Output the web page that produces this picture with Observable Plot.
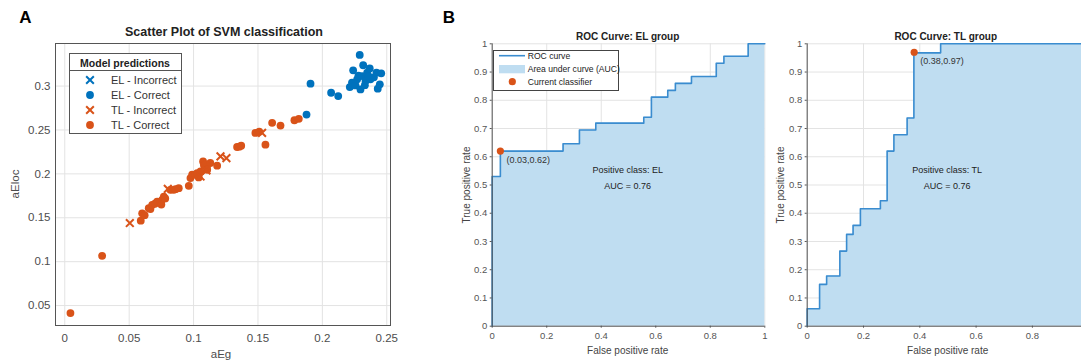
<!DOCTYPE html>
<html><head><meta charset="utf-8">
<script src="https://cdn.jsdelivr.net/npm/d3@7"></script>
<script src="https://cdn.jsdelivr.net/npm/@observablehq/plot@0.6"></script>
<style>
html,body{margin:0;padding:0;background:#fff;}
#root{position:relative;width:1081px;height:361px;overflow:hidden;font-family:"Liberation Sans",Arial,sans-serif;color:#262626;}
.abs{position:absolute;white-space:nowrap;}
.ctr{transform:translate(-50%,-50%);}
.rot{transform:translate(-50%,-50%) rotate(-90deg);}
svg.plot{position:absolute;}
</style></head><body><div id="root"></div>
<script>
// ---------- Panel A data ----------
const elCorrectX = [0.1877,0.1908,0.2068,0.2123,0.2213,0.2230,0.2239,0.2257,0.2270,0.2290,0.2296,0.2309,0.2317,0.2335,0.2348,0.2368,0.2373,0.2330,0.2400,0.2420,0.2457,0.2446,0.2430,0.2280,0.2360];
const elCorrectY = [0.2676,0.3027,0.2924,0.2886,0.2989,0.3040,0.3180,0.3008,0.3077,0.3355,0.2962,0.3114,0.3237,0.3057,0.3153,0.3200,0.3077,0.3010,0.3100,0.3153,0.3145,0.3020,0.2970,0.3120,0.3110];
const elIncorrectX = [];
const elIncorrectY = [];
const tlCorrectX = [0.0044,0.0290,0.0590,0.0601,0.0620,0.0652,0.0665,0.0679,0.0700,0.0717,0.0740,0.0756,0.0750,0.0769,0.0780,0.0820,0.0846,0.0860,0.0885,0.0963,0.0976,0.0989,0.1015,0.1028,0.1054,0.1040,0.1074,0.1080,0.1092,0.1130,0.1106,0.1183,0.1338,0.1355,0.1370,0.1480,0.1510,0.1558,0.1610,0.1675,0.1783,0.1817];
const tlCorrectY = [0.0414,0.1067,0.1467,0.1551,0.1530,0.1609,0.1600,0.1647,0.1660,0.1684,0.1680,0.1704,0.1650,0.1741,0.1720,0.1818,0.1818,0.1826,0.1837,0.1864,0.1952,0.1990,0.1990,0.2009,0.2027,0.1960,0.2142,0.2100,0.2104,0.2124,0.2047,0.2093,0.2306,0.2310,0.2321,0.2467,0.2480,0.2333,0.2581,0.2550,0.2611,0.2627];
const tlIncorrectX = [0.0505,0.0800,0.1054,0.1100,0.1209,0.1255,0.1532];
const tlIncorrectY = [0.1440,0.1830,0.1970,0.2040,0.2199,0.2180,0.2467];
const xTicksA = [0,0.05,0.1,0.15,0.2,0.25];
const yTicksA = [0.05,0.1,0.15,0.2,0.25,0.3];
const legendA = ["EL - Incorrect","EL - Correct","TL - Incorrect","TL - Correct"];

// ---------- Panel B data ----------
const rocElFpr = [0,0,0.03,0.26,0.32,0.38,0.556,0.584,0.644,0.672,0.731,0.822,0.85,0.939,1];
const rocElTpr = [0,0.53,0.62,0.646,0.695,0.719,0.74,0.811,0.835,0.86,0.884,0.931,0.956,1,1];
const rocTlFpr = [0,0,0.044,0.069,0.116,0.14,0.163,0.189,0.26,0.284,0.308,0.355,0.379,0.474,1];
const rocTlTpr = [0,0.062,0.148,0.178,0.266,0.325,0.357,0.416,0.444,0.62,0.678,0.737,0.968,1,1];
const opEl = {fpr:0.03, tpr:0.62, label:"(0.03,0.62)"};
const opTl = {fpr:0.38, tpr:0.97, label:"(0.38,0.97)"};
const aucEl = 0.76, aucTl = 0.76;
const rocXTicks = [0,0.2,0.4,0.6,0.8,1];
const rocXTicksCut = [0,0.2,0.4,0.6,0.8];   // right panel: the "1" label falls outside the picture
const rocYTicks = [0,0.1,0.2,0.3,0.4,0.5,0.6,0.7,0.8,0.9,1];
const legendB = ["ROC curve","Area under curve (AUC)","Current classifier"];

const BLUE = "#0072BD", ORANGE = "#D95319", FILL = "#BFDDF1", LINE = "#3A8CCF";
const FONT = "'Liberation Sans', Arial, sans-serif";
const root = document.getElementById("root");
const fmt = d => String(+d.toFixed(2));

function addText(txt, x, y, css, cls="ctr") {
  const d = document.createElement("div");
  d.className = "abs " + cls;
  d.textContent = txt;
  d.style.left = x + "px"; d.style.top = y + "px";
  Object.assign(d.style, css);
  root.appendChild(d);
  return d;
}
function place(svg, left, top) {
  svg.classList.add("plot");
  svg.style.left = left + "px"; svg.style.top = top + "px";
  root.appendChild(svg);
}

// ---------- Panel A ----------
const zipA = (xs, ys) => xs.map((x, i) => ({x, y: ys[i]}));
const scatter = Plot.plot({
  width: 440, height: 361,
  marginLeft: 55, marginRight: 50, marginTop: 43, marginBottom: 36,
  x: {domain: [-0.0072, 0.2529]},
  y: {domain: [0.0273, 0.3485]},
  style: {fontFamily: FONT, fontSize: "11.5px", color: "#4d4d4d", background: "transparent"},
  marks: [
    Plot.gridX(xTicksA, {stroke: "#e3e3e3", strokeOpacity: 1}),
    Plot.gridY(yTicksA, {stroke: "#e3e3e3", strokeOpacity: 1}),
    Plot.frame({stroke: "#555"}),
    Plot.axisX(xTicksA, {tickSize: 0, tickPadding: 8, tickFormat: fmt, label: null}),
    Plot.axisY(yTicksA, {tickSize: 0, tickPadding: 5, tickFormat: fmt, label: null}),
    Plot.dot(zipA(tlCorrectX, tlCorrectY), {x: "x", y: "y", r: 3.9, fill: ORANGE}),
    Plot.dot(zipA(tlIncorrectX, tlIncorrectY), {x: "x", y: "y", r: 3.6, symbol: "times", stroke: ORANGE, strokeWidth: 2}),
    Plot.dot(zipA(elCorrectX, elCorrectY), {x: "x", y: "y", r: 3.9, fill: BLUE}),
    Plot.dot(zipA(elIncorrectX, elIncorrectY), {x: "x", y: "y", r: 3.6, symbol: "times", stroke: BLUE, strokeWidth: 2})
  ]
});
place(scatter, 0, 0);

addText("A", 25.5, 18, {fontSize: "17px", fontWeight: "bold", color: "#000"});
addText("Scatter Plot of SVM classification", 224, 32, {fontSize: "12.5px", fontWeight: "bold", color: "#222"});
addText("aEg", 221, 354, {fontSize: "11.5px", color: "#4d4d4d"});
addText("aEloc", 15, 184, {fontSize: "11.5px", color: "#4d4d4d"}, "rot");

// legend A
(function(){
  const box = document.createElement("div");
  box.className = "abs";
  Object.assign(box.style, {left: "69px", top: "52.7px", width: "111px", height: "79px", border: "1px solid #555", background: "#fff"});
  root.appendChild(box);
  const sep = document.createElement("div");
  sep.className = "abs";
  Object.assign(sep.style, {left: "69px", top: "70px", width: "113px", height: "1px", background: "#555"});
  root.appendChild(sep);
  addText("Model predictions", 125, 62.5, {fontSize: "10.5px", fontWeight: "bold", color: "#222"});
  const colors = [BLUE, BLUE, ORANGE, ORANGE];
  const syms = [d3.symbolTimes, d3.symbolCircle, d3.symbolTimes, d3.symbolCircle];
  const rowsY = [80, 95.3, 110, 125.3];
  legendA.forEach((t, i) => {
    const s = d3.create("svg").attr("width", 12).attr("height", 12)
      .style("position", "absolute").style("left", (90 - 6) + "px").style("top", (rowsY[i] - 6) + "px");
    const isX = syms[i] === d3.symbolTimes;
    s.append("path").attr("transform", "translate(6,6)")
      .attr("d", d3.symbol(syms[i], isX ? 40 : 48)())
      .attr("fill", isX ? "none" : colors[i]).attr("stroke", isX ? colors[i] : "none").attr("stroke-width", 2);
    root.appendChild(s.node());
    addText(t, 111, rowsY[i], {fontSize: "11px", color: "#333", transform: "translate(0,-50%)"}, "");
  });
})();

// ---------- Panel B ----------
function roc(fprs, tprs, op, auc, cls, width, ml, mr, xLabels) {
  const data = fprs.map((f, i) => ({fpr: f, tpr: tprs[i]}));
  return Plot.plot({
    width, height: 361,
    marginLeft: ml, marginRight: mr, marginTop: 43.3, marginBottom: 35.3,
    x: {domain: [0, 1]},
    y: {domain: [0, 1]},
    style: {fontFamily: FONT, fontSize: "9.5px", color: "#555", background: "transparent", overflow: "visible"},
    marks: [
      Plot.gridX(rocXTicks, {stroke: "#e3e3e3", strokeOpacity: 1}),
      Plot.gridY(rocYTicks, {stroke: "#e3e3e3", strokeOpacity: 1}),
      Plot.areaY(data, {x: "fpr", y: "tpr", curve: "step-after", fill: FILL}),
      Plot.line(data, {x: "fpr", y: "tpr", curve: "step-after", stroke: LINE, strokeWidth: 1.6}),
      Plot.ruleX([0], {stroke: "#555"}),
      Plot.ruleY([0], {stroke: "#555"}),
      Plot.axisX(xLabels, {tickSize: 2, tickPadding: 4, tickFormat: fmt, label: null, stroke: "#555"}),
      Plot.axisY(rocYTicks, {tickSize: 2, tickPadding: 3, tickFormat: fmt, label: null, stroke: "#555"}),
      Plot.dot([op], {x: "fpr", y: "tpr", r: 3.6, fill: ORANGE}),
      Plot.text([op], {x: "fpr", y: "tpr", text: "label", dx: 6, dy: 9, textAnchor: "start", fontSize: 9, fill: "#333"}),
      Plot.text(["Positive class: " + cls], {x: 0.497, y: 0.551, fontSize: 9, fill: "#222"}),
      Plot.text(["AUC = " + auc.toFixed(2)], {x: 0.497, y: 0.496, fontSize: 9, fill: "#222"})
    ]
  });
}
place(roc(rocElFpr, rocElTpr, opEl, aucEl, "EL", 330, 51.7, 5.7, rocXTicks), 440, 0);
place(roc(rocTlFpr, rocTlTpr, opTl, aucTl, "TL", 330, 36.7, 11.8, rocXTicksCut), 770, 0);

addText("B", 449, 18, {fontSize: "17px", fontWeight: "bold", color: "#000"});
addText("ROC Curve: EL group", 627.7, 35.7, {fontSize: "10px", fontWeight: "bold", color: "#222"});
addText("ROC Curve: TL group", 945.7, 35.7, {fontSize: "10px", fontWeight: "bold", color: "#222"});
addText("False positive rate", 627.7, 350, {fontSize: "10px", color: "#444"});
addText("False positive rate", 947.7, 350, {fontSize: "10px", color: "#444"});
addText("True positive rate", 465.7, 184.5, {fontSize: "10px", color: "#444"}, "rot");
addText("True positive rate", 779.5, 184.5, {fontSize: "10px", color: "#444"}, "rot");

// legend B
(function(){
  const box = document.createElement("div");
  box.className = "abs";
  Object.assign(box.style, {left: "493.3px", top: "50px", width: "124px", height: "38.5px", border: "1px solid #444", background: "#fff"});
  root.appendChild(box);
  const s = d3.create("svg").attr("width", 30).attr("height", 40)
    .style("position", "absolute").style("left", "497px").style("top", "50px");
  s.append("line").attr("x1", 2).attr("x2", 28).attr("y1", 5.7).attr("y2", 5.7).attr("stroke", LINE).attr("stroke-width", 1.6);
  s.append("rect").attr("x", 2).attr("y", 15).attr("width", 26).attr("height", 8.3).attr("fill", FILL);
  s.append("circle").attr("cx", 15.3).attr("cy", 31.7).attr("r", 3.6).attr("fill", ORANGE);
  root.appendChild(s.node());
  const rowsY = [55.7, 69.2, 81.7];
  legendB.forEach((t, i) => addText(t, 527.7, rowsY[i], {fontSize: "8.6px", color: "#222", transform: "translate(0,-50%)"}, ""));
})();
</script></body></html>
